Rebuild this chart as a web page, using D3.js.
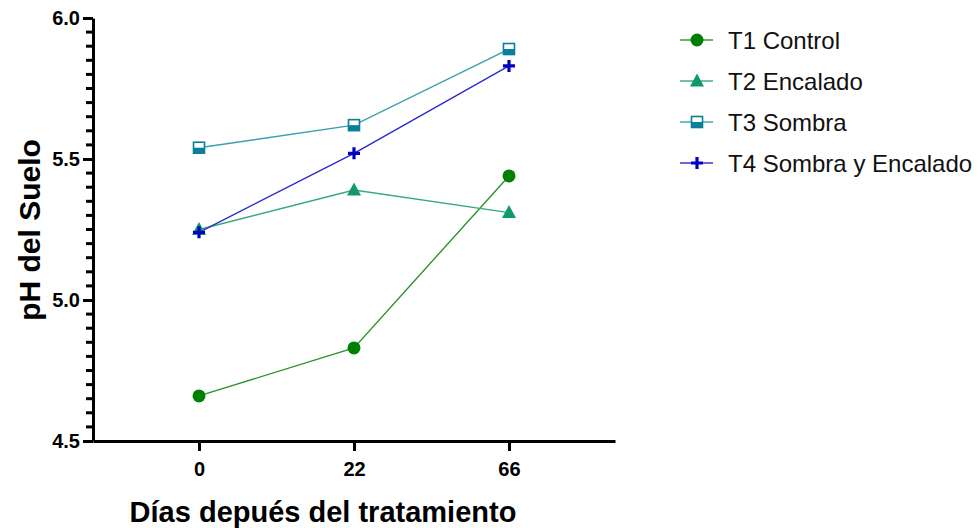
<!DOCTYPE html>
<html>
<head>
<meta charset="utf-8">
<script src="https://cdn.jsdelivr.net/npm/d3@7"></script>
<style>
  body { margin: 0; background: #fff; }
  text { font-family: Arial, "Liberation Sans", sans-serif; }
</style>
</head>
<body>
<svg id="chart" width="980" height="528"></svg>
<script>
// data
var days = ["0", "22", "66"];
var t1Control = [4.66, 4.83, 5.44];
var t2Encalado = [5.25, 5.39, 5.31];
var t3Sombra = [5.54, 5.62, 5.89];
var t4SombraEncalado = [5.24, 5.52, 5.83];
var yTicks = [4.5, 5.0, 5.5, 6.0];
var seriesNames = ["T1 Control", "T2 Encalado", "T3 Sombra", "T4 Sombra y Encalado"];

var series = [
    { name: seriesNames[0], values: t1Control, color: "#008000", line: "#2a952a", shape: "circle" },
    { name: seriesNames[1], values: t2Encalado, color: "#109a6a", line: "#35a97f", shape: "triangle" },
    { name: seriesNames[2], values: t3Sombra, color: "#0a7f99", line: "#3a9fb2", shape: "square" },
    { name: seriesNames[3], values: t4SombraEncalado, color: "#0000c0", line: "#2a2ad0", shape: "plus" }
];

var svg = d3.select('#chart');

var x = d3.scalePoint()
    .domain(days)
    .range([93, 615])
    .padding(0.684);

var y = d3.scaleLinear()
    .domain([4.5, 6.0])
    .range([441, 18]);

// minor ticks every 0.05
var minor = d3.range(1, 30).filter(function (i) { return i % 10 !== 0; })
    .map(function (i) { return 4.5 + i * 0.05; });

svg.append('g')
    .selectAll('line')
    .data(minor)
    .enter().append('line')
    .attr('x1', 86).attr('x2', 94)
    .attr('y1', function (d) { return y(d); })
    .attr('y2', function (d) { return y(d); })
    .style('stroke', '#000')
    .style('stroke-width', '3px');

var gy = svg.append('g')
    .attr('transform', 'translate(93,0)')
    .call(d3.axisLeft(y)
        .tickValues(yTicks)
        .tickFormat(d3.format(".1f"))
        .tickSize(10)
        .tickSizeOuter(0)
        .tickPadding(3));
gy.select('.domain').style('stroke-width', '3px');
gy.selectAll('.tick line').style('stroke-width', '3px');
gy.selectAll('.tick text').style('font-size', '20px').style('font-weight', 'bold');

var gx = svg.append('g')
    .attr('transform', 'translate(0,441)')
    .call(d3.axisBottom(x)
        .tickSize(10)
        .tickSizeOuter(0)
        .tickPadding(11));
gx.select('.domain').style('stroke-width', '3px');
gx.selectAll('.tick line').style('stroke-width', '3px');
gx.selectAll('.tick text').style('font-size', '20px').style('font-weight', 'bold');

// axis titles
svg.append('text')
    .attr('transform', 'translate(40,230) rotate(-90)')
    .attr('text-anchor', 'middle')
    .style('font-size', '30px')
    .style('font-weight', 'bold')
    .text('pH del Suelo');

svg.append('text')
    .attr('x', 323)
    .attr('y', 522)
    .attr('text-anchor', 'middle')
    .style('font-size', '29px')
    .style('font-weight', 'bold')
    .text('Días depués del tratamiento');

function drawMarker(g, shape, color) {
    if (shape === 'circle') {
        g.append('circle').attr('r', 6.5).attr('fill', color);
    } else if (shape === 'triangle') {
        g.append('path').attr('d', 'M0,-7.5L7,5.5L-7,5.5Z').attr('fill', color);
    } else if (shape === 'square') {
        g.append('rect').attr('x', -5.5).attr('y', -5.5).attr('width', 11).attr('height', 11)
            .attr('fill', '#fff').attr('stroke', color).attr('stroke-width', 1.6);
        g.append('rect').attr('x', -5.5).attr('y', 0).attr('width', 11).attr('height', 5.5)
            .attr('fill', color);
    } else if (shape === 'plus') {
        g.append('path').attr('d', 'M-6,0H6M0,-6V6')
            .attr('stroke', color).attr('stroke-width', 3.2).attr('fill', 'none');
    }
}

var line = d3.line()
    .x(function (d, i) { return x(days[i]); })
    .y(function (d) { return y(d); });

series.forEach(function (s) {
    svg.append('path')
        .attr('d', line(s.values))
        .attr('fill', 'none')
        .attr('stroke', s.line)
        .attr('stroke-width', 1.4);
});

series.forEach(function (s) {
    s.values.forEach(function (v, i) {
        var g = svg.append('g')
            .attr('transform', 'translate(' + x(days[i]) + ',' + y(v) + ')');
        drawMarker(g, s.shape, s.color);
    });
});

// legend
var legend = svg.append('g').attr('transform', 'translate(680,40)');
series.forEach(function (s, i) {
    var row = legend.append('g').attr('transform', 'translate(0,' + (i * 41) + ')');
    row.append('line')
        .attr('x1', 0).attr('x2', 33)
        .attr('stroke', s.line).attr('stroke-opacity', 0.7).attr('stroke-width', 2);
    drawMarker(row.append('g').attr('transform', 'translate(17,0)'), s.shape, s.color);
    row.append('text')
        .attr('x', 48)
        .attr('y', 8.5)
        .style('font-size', '24px')
        .style('fill', '#111')
        .text(s.name);
});
</script>
</body>
</html>
